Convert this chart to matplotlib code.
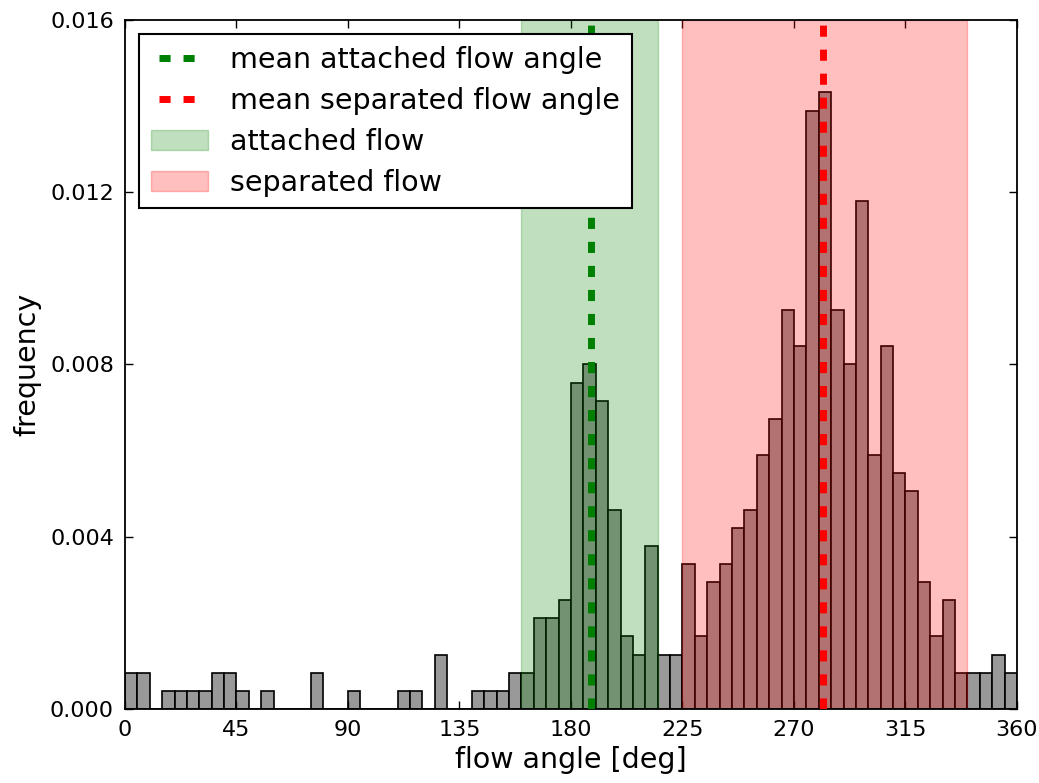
import numpy as np
import matplotlib
matplotlib.use("Agg")
import matplotlib.pyplot as plt

plt.rcParams["font.family"] = ["DejaVu Sans"]
plt.rcParams["lines.scale_dashes"] = False

# Histogram of flow angles: 5-degree bins from 0 to 360 (sample counts per bin)
bin_edges = np.arange(0, 365, 5)
counts = np.array([
    2, 2, 0, 1, 1, 1, 1, 2, 2, 1,
    0, 1, 0, 0, 0, 2, 0, 0, 1, 0,
    0, 0, 1, 1, 0, 3, 0, 0, 1, 1,
    1, 2, 2, 5, 5, 6, 18, 19, 17, 11,
    4, 3, 9, 3, 3, 8, 4, 7, 8, 10,
    11, 14, 16, 22, 20, 33, 34, 22, 19, 28,
    14, 20, 13, 12, 7, 4, 6, 2, 2, 2,
    3, 2,
])

attached_range = (160, 215)
separated_range = (225, 340)
mean_attached = 187.9
mean_separated = 281.7

xticks = [0, 45, 90, 135, 180, 225, 270, 315, 360]
yticks = [0.000, 0.004, 0.008, 0.012, 0.016]

widths = np.diff(bin_edges)
density = counts / (counts.sum() * widths)

fig = plt.figure(figsize=(10.39, 7.83), dpi=100)
ax = fig.add_axes([0.1203, 0.0945, 0.8585, 0.88])

ax.bar(bin_edges[:-1], density, width=widths, align="edge",
       color="#999999", edgecolor="black", linewidth=1.2, zorder=1)

span_a = ax.axvspan(*attached_range, color="green", alpha=0.25, lw=1,
                    zorder=2, label="attached flow")
span_s = ax.axvspan(*separated_range, color="red", alpha=0.25, lw=1,
                    zorder=2, label="separated flow")

line_a = ax.axvline(mean_attached, color="green", lw=5, dashes=(8, 9.3),
                    zorder=3, label="mean attached flow angle")
line_s = ax.axvline(mean_separated, color="red", lw=5, dashes=(8, 9.3),
                    zorder=3, label="mean separated flow angle")

ax.set_xlim(0, 360)
ax.set_ylim(0, 0.016)
ax.set_xticks(xticks)
ax.set_yticks(yticks)
ax.set_yticklabels([f"{v:.3f}" for v in yticks])
ax.tick_params(direction="in", length=6, width=1, top=True, right=True,
               labelsize=16, pad=8)
for s in ax.spines.values():
    s.set_linewidth(1.3)

ax.set_xlabel("flow angle [deg]", fontsize=20.5, labelpad=4)
ax.set_ylabel("frequency", fontsize=20.5, labelpad=6)

leg = ax.legend(handles=[line_a, line_s, span_a, span_s],
                loc="upper left", fontsize=20.5, frameon=True, fancybox=False,
                framealpha=1, edgecolor="black", numpoints=2,
                handlelength=2.0, handletextpad=0.8, labelspacing=0.46,
                borderaxespad=0.5, borderpad=0.4)
leg.get_frame().set_linewidth(1.5)

fig.savefig("out.png", dpi=100)
